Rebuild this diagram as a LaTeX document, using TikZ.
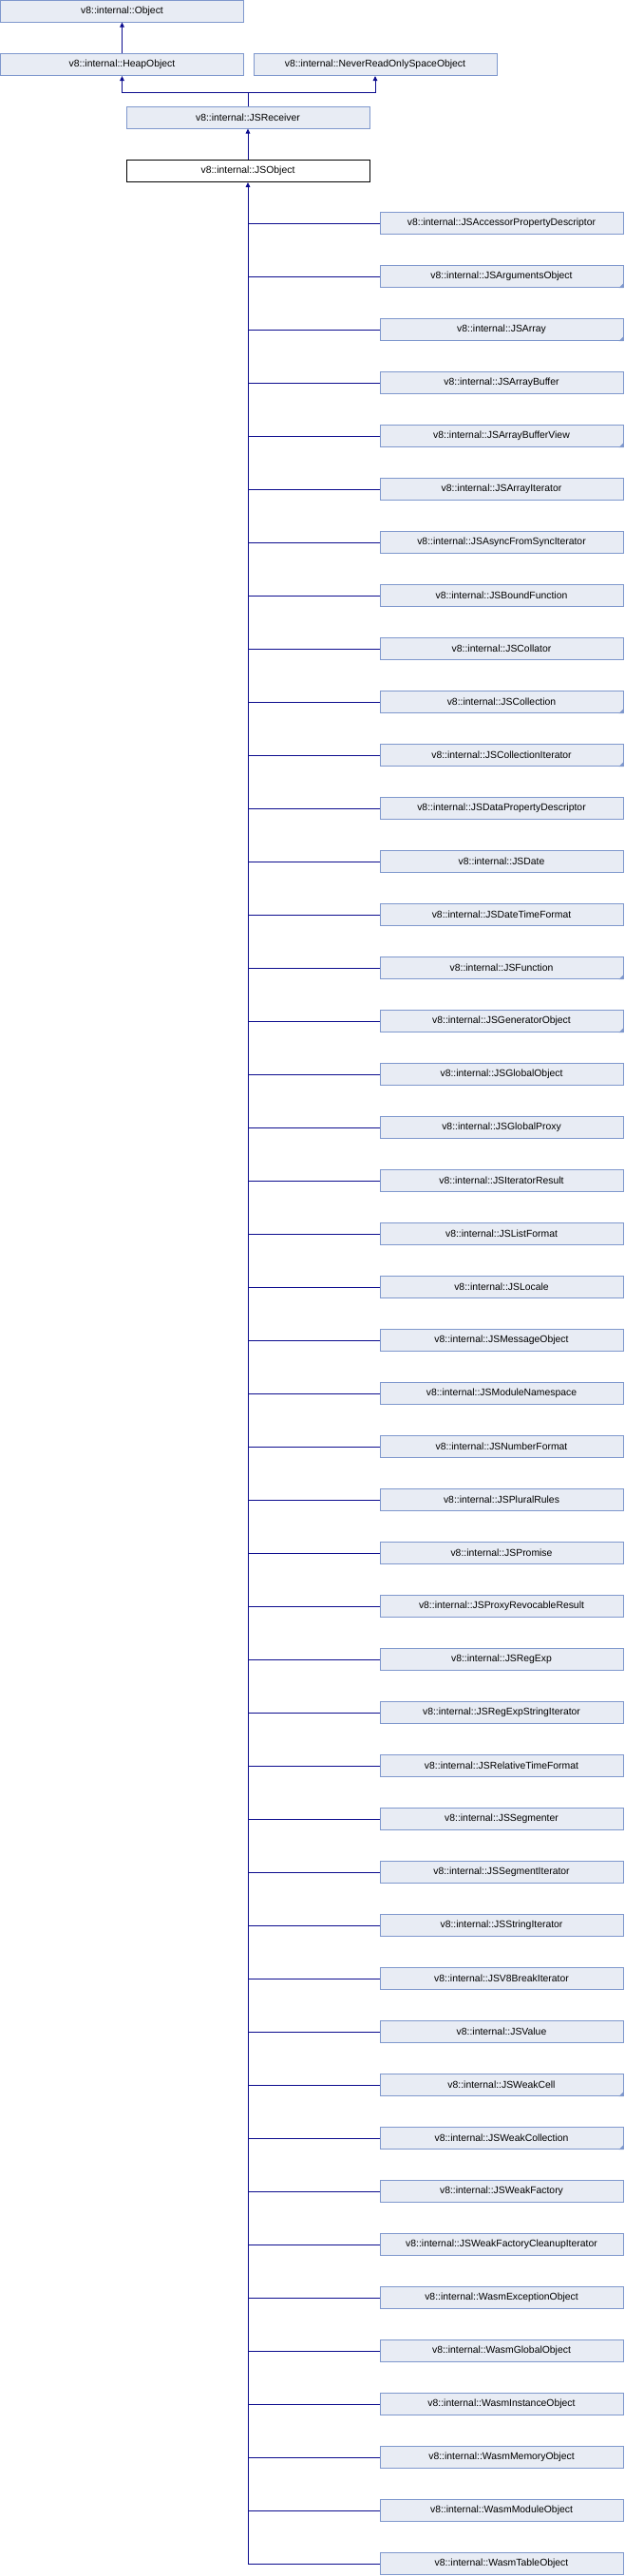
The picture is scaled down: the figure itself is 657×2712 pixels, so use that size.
\documentclass[tikz,border=0pt]{standalone}
\usepackage{fontspec}
\setmainfont{Liberation Sans}
\usepackage{xcolor}
\usepackage{tikz}
\usetikzlibrary{arrows.meta}
\definecolor{BoxFill}{HTML}{E8ECF4}
\definecolor{BoxLine}{HTML}{7F98CD}
\definecolor{InhBlue}{HTML}{0C0C8E}

\tikzset{
	classbox/.style={draw=BoxLine, fill=BoxFill, line width=1pt, minimum width=256pt, minimum height=23pt, inner sep=0pt, font=\fontsize{10.4}{12}\selectfont},
	curbox/.style={classbox, draw=black, fill=white},
	inh/.style={draw=InhBlue, line width=1pt, -{Triangle[width=4.5pt,length=5pt]}},
	link/.style={draw=InhBlue, line width=1pt},
}

\begin{document}
\begin{tikzpicture}[x=1pt, y=-1pt]
				\useasboundingbox (0,0) rectangle (657,2712);

				\node[classbox] (object) at (128.5,11.5) {v8::internal::Object};
				\node[classbox] (heapobject) at (128.5,68) {v8::internal::HeapObject};
				\node[classbox] (neverro) at (395,68) {v8::internal::NeverReadOnlySpaceObject};
				\node[classbox] (jsreceiver) at (261,123.5) {v8::internal::JSReceiver};
				\node[curbox] (jsobject) at (261,180) {v8::internal::JSObject};

				\draw[inh] (heapobject.north) -- (object.south);
				\coordinate (split) at (261,97);
				\draw[link] (jsreceiver.north) -- (split);
				\draw[inh] (split) -| (heapobject.south);
				\draw[inh] (split) -| (neverro.south);
				\draw[inh] (jsobject.north) -- (jsreceiver.south);

				% derived classes, 1 = has more subclasses
				\foreach \cls/\more [count=\i] in {
					JSAccessorPropertyDescriptor/0, JSArgumentsObject/1, JSArray/1, JSArrayBuffer/0,
					JSArrayBufferView/1, JSArrayIterator/0, JSAsyncFromSyncIterator/0, JSBoundFunction/0,
					JSCollator/0, JSCollection/1, JSCollectionIterator/1, JSDataPropertyDescriptor/0,
					JSDate/0, JSDateTimeFormat/0, JSFunction/1, JSGeneratorObject/1,
					JSGlobalObject/0, JSGlobalProxy/0, JSIteratorResult/0, JSListFormat/0,
					JSLocale/0, JSMessageObject/0, JSModuleNamespace/0, JSNumberFormat/0,
					JSPluralRules/0, JSPromise/0, JSProxyRevocableResult/0, JSRegExp/0,
					JSRegExpStringIterator/0, JSRelativeTimeFormat/0, JSSegmenter/0, JSSegmentIterator/0,
					JSStringIterator/0, JSV8BreakIterator/0, JSValue/0, JSWeakCell/1,
					JSWeakCollection/1, JSWeakFactory/0, JSWeakFactoryCleanupIterator/0, WasmExceptionObject/0,
					WasmGlobalObject/0, WasmInstanceObject/0, WasmMemoryObject/0, WasmModuleObject/0,
					WasmTableObject/0} {
					\node[classbox] (c\i) at (528,235+56*\i-56) {v8::internal::\cls};
					\draw[link] (jsobject.south |- c\i.west) -- (c\i.west);
					\ifnum\more=1
						\fill[BoxLine] (c\i.south east) -- ++(-5,0) -- ++(5,-5) -- cycle;
					\fi
				}

				% trunk
				\draw[inh] (jsobject.south |- c45.west) -- (jsobject.south);
			\end{tikzpicture}
\end{document}
